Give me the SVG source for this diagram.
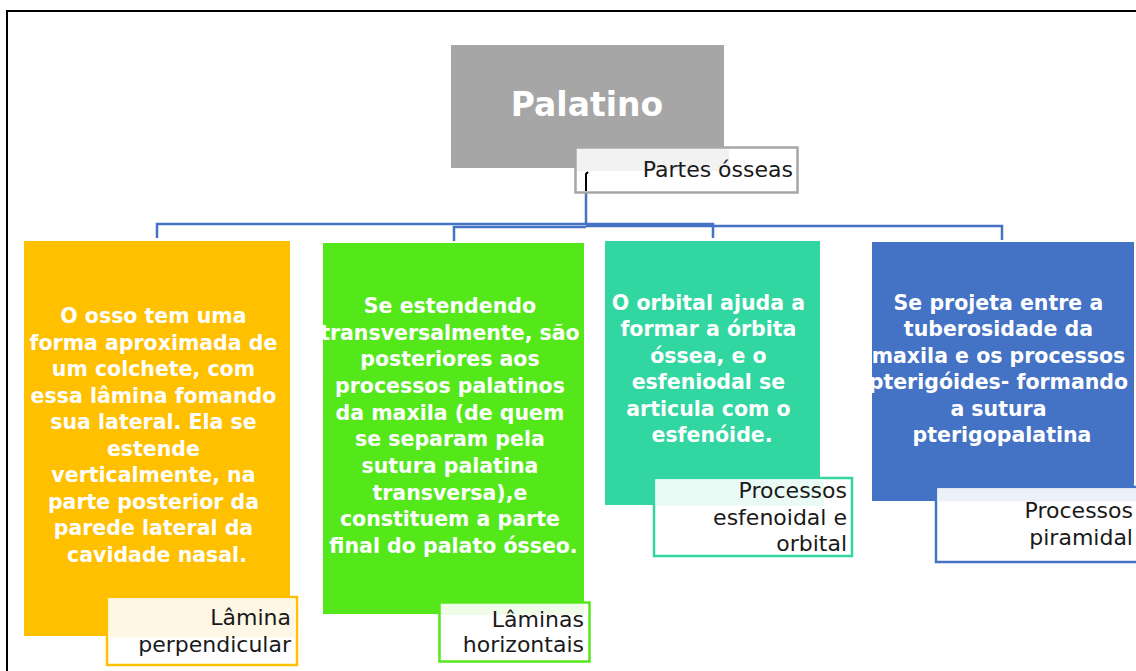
<svg xmlns="http://www.w3.org/2000/svg" width="1136" height="671" viewBox="0 0 1136 671">
<style>
.bt{font-family:"DejaVu Sans","Liberation Sans",sans-serif;font-weight:bold;font-size:20.5px;fill:#fff;text-anchor:middle}
.lt{font-family:"DejaVu Sans","Liberation Sans",sans-serif;font-size:22px;fill:#1a1a1a;text-anchor:end}
.conn{fill:none;stroke:#4472C4;stroke-width:2.5}
</style>
<rect x="0" y="0" width="1136" height="671" fill="#fff"/>
<path d="M7 671 V11 H1136" fill="none" stroke="#000" stroke-width="2"/>
<g id="connectors">
<path class="conn" d="M586 226 H1002 V240"/>
<path class="conn" d="M586 227 H454 V241"/>
<path class="conn" d="M586 192 V224 H157 V238"/>
<path class="conn" d="M586 224 H713 V238"/>
</g>
<g id="root">
<rect x="451" y="45" width="273" height="123" fill="#A6A6A6"/>
<text x="587" y="116" font-family="DejaVu Sans, Liberation Sans, sans-serif" font-weight="bold" font-size="33" fill="#fff" text-anchor="middle">Palatino</text>
</g>
<g id="root-label">
<rect x="575.5" y="147.5" width="222" height="45" fill="#fff" stroke="#A6A6A6" stroke-width="2.5"/>
<rect x="577" y="149" width="152" height="22" fill="#F2F2F2"/>
<path d="M586 191 V174 L588 172" fill="none" stroke="#000" stroke-width="2"/>
<text class="lt" x="793" y="177">Partes ósseas</text>
</g>
<g id="node-yellow">
<rect x="24" y="241" width="266" height="395" fill="#FFC000"/>
<text class="bt">
<tspan x="157" y="323">O osso tem uma</tspan>
<tspan x="157" y="349.5">forma aproximada de</tspan>
<tspan x="157" y="376">um colchete, com</tspan>
<tspan x="157" y="402.6">essa lâmina fomando</tspan>
<tspan x="157" y="429.2">sua lateral. Ela se</tspan>
<tspan x="157" y="455.8">estende</tspan>
<tspan x="157" y="482.3">verticalmente, na</tspan>
<tspan x="157" y="508.9">parte posterior da</tspan>
<tspan x="157" y="535.4">parede lateral da</tspan>
<tspan x="157" y="562">cavidade nasal.</tspan>
</text>
</g>
<g id="label-yellow">
<rect x="107" y="597" width="190" height="68" fill="#fff" stroke="#FFC000" stroke-width="2.5"/>
<rect x="108.5" y="598.5" width="187" height="39" fill="#FFF7E5"/>
<text class="lt" x="291" y="625">Lâmina</text>
<text class="lt" x="291" y="652">perpendicular</text>
</g>
<g id="node-green">
<rect x="323" y="243" width="261" height="371" fill="#54E81B"/>
<text class="bt">
<tspan x="453.5" y="313">Se estendendo</tspan>
<tspan x="453.5" y="339.7">transversalmente, são</tspan>
<tspan x="453.5" y="366.3">posteriores aos</tspan>
<tspan x="453.5" y="393">processos palatinos</tspan>
<tspan x="453.5" y="419.7">da maxila (de quem</tspan>
<tspan x="453.5" y="446.3">se separam pela</tspan>
<tspan x="453.5" y="473">sutura palatina</tspan>
<tspan x="453.5" y="499.7">transversa),e</tspan>
<tspan x="453.5" y="526.3">constituem a parte</tspan>
<tspan x="453.5" y="553">final do palato ósseo.</tspan>
</text>
</g>
<g id="label-green">
<rect x="439.5" y="602.5" width="150" height="59" fill="#fff" stroke="#54E81B" stroke-width="2.5"/>
<rect x="441" y="604" width="143" height="11" fill="#EEFCE8"/>
<text class="lt" x="584" y="627">Lâminas</text>
<text class="lt" x="584" y="652">horizontais</text>
</g>
<g id="node-teal">
<rect x="605" y="241" width="215" height="264" fill="#31D6A0"/>
<text class="bt">
<tspan x="712" y="310">O orbital ajuda a</tspan>
<tspan x="712" y="336.4">formar a órbita</tspan>
<tspan x="712" y="362.8">óssea, e o</tspan>
<tspan x="712" y="389.2">esfeniodal se</tspan>
<tspan x="712" y="415.6">articula com o</tspan>
<tspan x="712" y="442">esfenóide.</tspan>
</text>
</g>
<g id="label-teal">
<rect x="654" y="478" width="198" height="78" fill="#fff" stroke="#31D6A0" stroke-width="2.5"/>
<rect x="655.5" y="479.5" width="168" height="26.5" fill="#EAFAF5"/>
<text class="lt" x="847" y="498">Processos</text>
<text class="lt" x="847" y="525">esfenoidal e</text>
<text class="lt" x="847" y="551">orbital</text>
</g>
<g id="node-blue">
<rect x="872" y="242" width="262" height="259" fill="#4472C4"/>
<text class="bt">
<tspan x="1002" y="310">Se projeta entre a</tspan>
<tspan x="1002" y="336.4">tuberosidade da</tspan>
<tspan x="1002" y="362.8">maxila e os processos</tspan>
<tspan x="1002" y="389.2">pterigóides- formando</tspan>
<tspan x="1002" y="415.6">a sutura</tspan>
<tspan x="1002" y="442">pterigopalatina</tspan>
</text>
</g>
<g id="label-blue">
<rect x="936" y="487" width="210" height="75" fill="#fff" stroke="#4472C4" stroke-width="2.5"/>
<rect x="937.5" y="488.5" width="200" height="13" fill="#ECF0F9"/>
<text class="lt" x="1133" y="518">Processos</text>
<text class="lt" x="1133" y="545">piramidal</text>
</g>
</svg>
